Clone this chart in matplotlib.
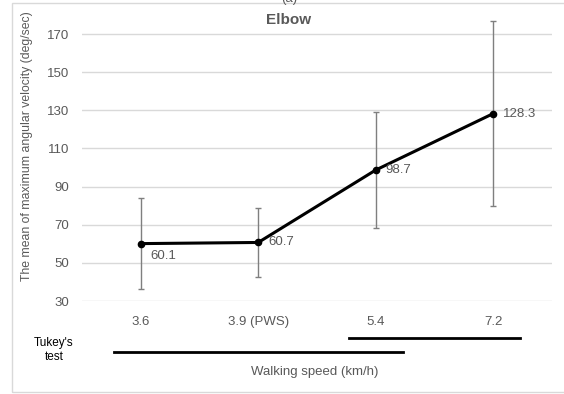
import matplotlib.pyplot as plt
import matplotlib.transforms as mtrans
from matplotlib.patches import Rectangle

plt.rcParams['font.family'] = ['Liberation Sans', 'DejaVu Sans']

speeds = ['3.6', '3.9 (PWS)', '5.4', '7.2']
means = [60.1, 60.7, 98.7, 128.3]
sds = [23.8, 18.1, 30.6, 48.7]
label_dy = [-9, 0, 0, 0]  # 60.1 sits a bit below its point
tukey_groups = [[0, 1, 2], [2, 3]]
tukey_y = [-0.178, -0.129]

grey = '#595959'

fig = plt.figure(figsize=(5.64, 3.94), dpi=100)
ax = fig.add_axes([82/564, 1 - 301/394, (552 - 82)/564, (301 - 15)/394])

x = list(range(len(speeds)))
ax.errorbar(x, means, yerr=sds, fmt='none', ecolor='#7f7f7f', elinewidth=1,
            capsize=2.2, capthick=1, zorder=2)
ax.plot(x, means, color='black', lw=2.2, marker='o', ms=4.5, zorder=3)
for xi, m, dy in zip(x, means, label_dy):
    ax.annotate(f'{m:.1f}', (xi, m), xytext=(7, dy), textcoords='offset points',
                ha='left', va='center', fontsize=9.5, color=grey)

ax.set_xlim(-0.5, len(speeds) - 0.5)
ax.set_ylim(30, 180)
ax.set_yticks(range(30, 171, 20))
ax.set_xticks(x)
ax.set_xticklabels(speeds)
ax.tick_params(length=0, labelsize=9.5, labelcolor=grey)
ax.tick_params(axis='x', pad=11)
ax.tick_params(axis='y', pad=9)
ax.grid(axis='y', color='#d9d9d9', lw=1)
ax.set_axisbelow(True)
for s in ax.spines.values():
    s.set_visible(False)

# Tukey grouping lines under the category labels
trans = mtrans.blended_transform_factory(ax.transData, ax.transAxes)
for grp, yy in zip(tukey_groups, tukey_y):
    ax.plot([min(grp) - 0.23, max(grp) + 0.23], [yy, yy], color='black', lw=2,
            transform=trans, clip_on=False)

fig.text(54/564, 1 - 350/394, "Tukey's\ntest", ha='center', va='center',
         fontsize=8.5, color='black', linespacing=1.3)
fig.text(315/564, 1 - 372/394, 'Walking speed (km/h)', ha='center', va='center',
         fontsize=9.5, color=grey)
fig.text(27/564, 1 - 146/394, 'The mean of maximum angular velocity (deg/sec)',
         rotation=90, ha='center', va='center', fontsize=8.8, color=grey)
fig.text(289/564, 1 - 20/394, 'Elbow', ha='center', va='center', fontsize=11,
         fontweight='bold', color=grey)
fig.text(289/564, 1 + 1/394, '(a)', ha='center', va='center', fontsize=9.5,
         color=grey)

fig.patches.append(Rectangle((12/564, 2/394), 1.2, 389/394, transform=fig.transFigure,
                             fill=False, edgecolor='#d9d9d9', lw=1))

fig.savefig('out.png', dpi=100)
